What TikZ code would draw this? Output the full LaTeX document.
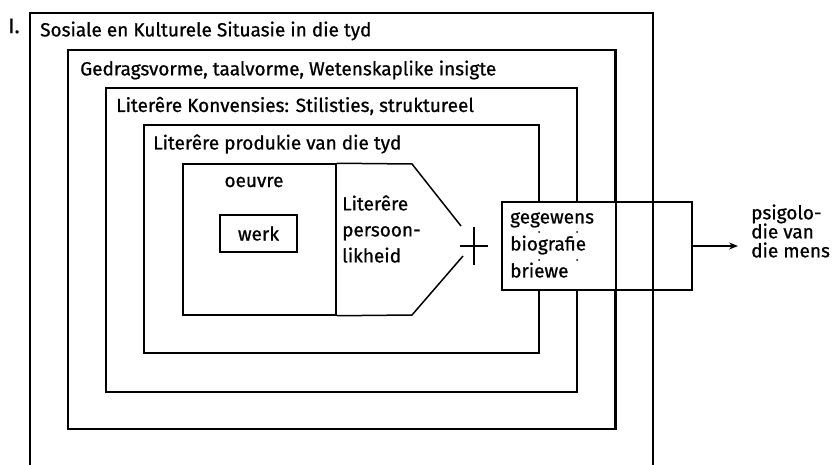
\documentclass[tikz,border=0pt]{standalone}
\usepackage{fontspec}
\setmainfont{Fira Sans}[FakeBold=0.8]
\usetikzlibrary{arrows.meta}
\begin{document}
\begin{tikzpicture}[x=1pt,y=-1pt,
  ln/.style={line width=1.5pt},
  txt/.style={font=\fontsize{19}{22}\selectfont},
  frame/.style={draw,line width=1.5pt,rectangle,inner sep=0pt,minimum width=#1},
  lbl/.style={inner sep=0pt,anchor=west,txt},
  multi/.style={inner sep=0pt,anchor=west,align=left,font=\fontsize{19}{#1}\selectfont}]
\useasboundingbox (0,0) rectangle (833,465);
% outer open frame
\draw[ln] (30,465) -- (30,13) -- (653,13) -- (653,465);
% nested frames
\node[frame=547pt,minimum height=379pt] (b2) at (341.5,239.5) {};
\node[frame=471pt,minimum height=304pt] (b3) at (341.5,240) {};
\node[frame=395pt,minimum height=228pt] (b4) at (341.5,239) {};
% texts of frames
\node[inner sep=0pt,font=\fontsize{21}{21}\selectfont] (num) at (14,26) {I.};
\node[lbl] (t1) at (40,31) {Sosiale en Kulturele Situasie in die tyd};
\node[lbl] (t2) at (80,70) {Gedragsvorme, taalvorme, Wetenskaplike insigte};
\node[lbl] (t3) at (116,106) {Literêre Konvensies: Stilisties, struktureel};
\node[lbl] (t4) at (153,144) {Literêre produkie van die tyd};
% oeuvre box
\node[draw,ln,inner sep=0pt,minimum width=153pt,minimum height=151pt] (oe) at (259.5,239.5) {};
\node[inner sep=0pt,txt] (oet) at (254,182) {oeuvre};
\node[draw,ln,inner sep=0pt,minimum width=77pt,minimum height=37pt,txt] (werk) at (258.5,233.5) {werk};
% pentagon (literere persoonlikheid)
\coordinate (p1) at (412,164);
\coordinate (p2) at (461,226);
\coordinate (p3) at (463,256);
\coordinate (p4) at (412,315);
\draw[ln] (oe.north east) -- (p1) -- (p2);
\draw[ln] (p3) -- (p4) -- (oe.south east);
\node[multi=26pt] (lp) at (342,229) {Literêre\\persoon-\\likheid};
% plus
\coordinate (plc) at (474,246);
\draw[ln] (460,246) -- (488,246);
\draw[ln] (474,227) -- (474,265);
% gegewens box
\node[draw,ln,fill=white,inner sep=0pt,minimum width=190pt,minimum height=88pt] (geg) at (597,246) {};
\draw[ln] (b2.north east) -- (b2.south east);
\draw[ln] (653,13) -- (653,465);
\foreach \xx in {539,577}{
  \fill (\xx,232) circle (1pt);
  \fill (\xx,260) circle (1pt);
}
\node[multi=27pt] (gt) at (510,245) {gegewens\\biografie\\briewe};
% arrow
\node[multi=19pt] (ps) at (751,231) {psigolo-\\die van\\die mens};
\draw[ln,-{Stealth[length=9pt,width=7pt]},shorten >=13pt] (geg.east) -- (geg.east -| ps.west);
\end{tikzpicture}
\end{document}
